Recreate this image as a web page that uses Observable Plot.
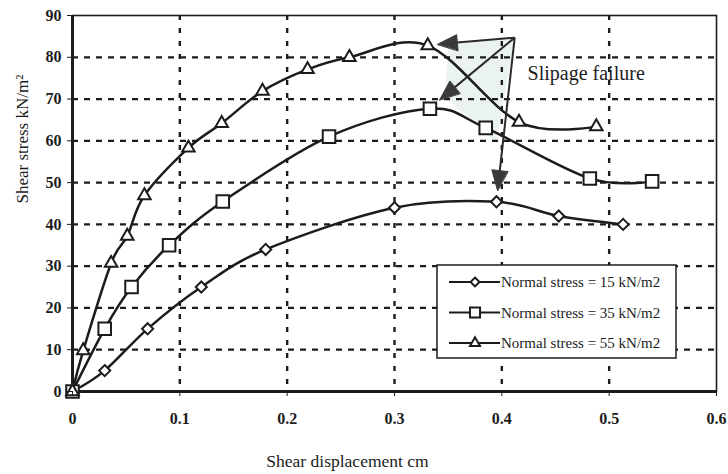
<!DOCTYPE html>
<html>
<head>
<meta charset="utf-8">
<script src="https://cdn.jsdelivr.net/npm/d3@7"></script>
<script src="https://cdn.jsdelivr.net/npm/@observablehq/plot@0.6"></script>
<style>
  html, body { margin: 0; padding: 0; background: #fff; }
  #chart svg { display: block; }
  #chart g[aria-label="x-axis tick label"] text,
  #chart g[aria-label="y-axis tick label"] text { font-weight: bold; }
</style>
</head>
<body>
<div id="chart"></div>
<script>
// ---- Data ----
const seriesNames = ["Normal stress = 15 kN/m2", "Normal stress = 35 kN/m2", "Normal stress = 55 kN/m2"];
const seriesSymbols = ["diamond2", "square2", "triangle2"];

const disp15 = [0, 0.03, 0.07, 0.12, 0.18, 0.30, 0.395, 0.453, 0.513];
const stress15 = [0, 5, 15, 25, 34, 44, 45.4, 42, 40];

const disp35 = [0, 0.03, 0.055, 0.09, 0.14, 0.239, 0.333, 0.385, 0.482, 0.54];
const stress35 = [0, 15, 25, 35, 45.5, 61, 67.7, 63.1, 51, 50.3];

const disp55 = [0, 0.01, 0.036, 0.051, 0.067, 0.108, 0.139, 0.177, 0.219, 0.258, 0.331, 0.416, 0.488];
const stress55 = [0, 9.8, 30.7, 37.2, 46.9, 58.3, 64.2, 71.9, 77.1, 80, 82.8, 64.5, 63.4];

const xTicks = [0, 0.1, 0.2, 0.3, 0.4, 0.5, 0.6];
const yTicks = [0, 10, 20, 30, 40, 50, 60, 70, 80, 90];
const xGrid = [0.1, 0.2, 0.3, 0.4, 0.5];
const yGrid = [10, 20, 30, 40, 50, 60, 70, 80];

const xLabel = "Shear displacement cm";
const yLabel = "Shear stress kN/m²";

// annotation "Slipage failure"
const noteText = "Slipage failure";
const noteAt = [0.424, 76.1];
const arrowFrom = [0.412, 84.7];
const arrowTipX = [0.340, 0.342, 0.396];
const arrowTipY = [83.1, 69.8, 48.1];
const shadeX = [0.412, 0.350, 0.347, 0.395];
const shadeY = [84.7, 83.0, 70.5, 59.5];

// ---- Layout ----
const W = 728, H = 474, mL = 72, mR = 12, mT = 15, mB = 83;
const kx = (W - mL - mR) / 0.6;   // px per unit x
const ky = (H - mT - mB) / 90;    // px per unit y

const series = [
  {name: seriesNames[0], sym: seriesSymbols[0], xs: disp15, ys: stress15, r: 5},
  {name: seriesNames[1], sym: seriesSymbols[1], xs: disp35, ys: stress35, r: 8},
  {name: seriesNames[2], sym: seriesSymbols[2], xs: disp55, ys: stress55, r: 6}
];
const rows = series.flatMap(s => s.xs.map((x, i) => ({series: s.name, sym: s.sym, r: s.r, x, y: s.ys[i]})));

// arrows: shaft + filled head polygon
const HEAD_L = 20, HEAD_W = 8;
const shafts = [], heads = [];
arrowTipX.forEach((tx, i) => {
  const ty = arrowTipY[i];
  const dxp = (tx - arrowFrom[0]) * kx, dyp = -(ty - arrowFrom[1]) * ky;
  const len = Math.hypot(dxp, dyp);
  const ux = dxp / len, uy = dyp / len;
  const bx = -ux * HEAD_L, by = -uy * HEAD_L; // base center offset px
  const nx = -uy * HEAD_W, ny = ux * HEAD_W;
  const toData = (px, py) => [tx + px / kx, ty - py / ky];
  const base = toData(bx, by);
  shafts.push({x1: arrowFrom[0], y1: arrowFrom[1], x2: base[0], y2: base[1]});
  const a = toData(0, 0), b = toData(bx + nx, by + ny), c = toData(bx - nx, by - ny);
  heads.push({k: i, x: a[0], y: a[1]}, {k: i, x: b[0], y: b[1]}, {k: i, x: c[0], y: c[1]});
});
const shade = shadeX.map((x, i) => ({x, y: shadeY[i]}));

const ink = "#1c1c1c";
const serif = "'Liberation Serif', 'Times New Roman', serif";

const chart = Plot.plot({
  width: W, height: H,
  marginLeft: mL, marginRight: mR, marginTop: mT, marginBottom: mB,
  style: {fontFamily: serif, fontSize: "16px", color: ink, background: "#fff"},
  x: {domain: [0, 0.6], axis: null},
  y: {domain: [0, 90], axis: null},
  marks: [
    Plot.line(shade, {x: "x", y: "y", fill: "#ebf2f2", stroke: "none", curve: "linear-closed"}),
    Plot.ruleY(yGrid, {stroke: ink, strokeWidth: 2.2, strokeDasharray: "6,6"}),
    Plot.ruleX(xGrid, {stroke: ink, strokeWidth: 2.4, strokeDasharray: "5,8"}),
    Plot.frame({stroke: ink, strokeWidth: 1.6}),
    Plot.ruleX([0], {stroke: ink, strokeWidth: 3}),
    Plot.ruleY([0], {stroke: ink, strokeWidth: 3}),
    Plot.line(rows, {x: "x", y: "y", z: "series", curve: "cardinal", stroke: ink, strokeWidth: 2.5}),
    Plot.link(shafts, {x1: "x1", y1: "y1", x2: "x2", y2: "y2", stroke: "#2a2a2a", strokeWidth: 2}),
    Plot.line(heads, {x: "x", y: "y", z: "k", fill: "#3a3a3a", stroke: "#3a3a3a", strokeWidth: 1, curve: "linear-closed"}),
    ...series.map(s => Plot.dot(rows.filter(d => d.series === s.name), {
      x: "x", y: "y", symbol: s.sym, r: s.r, fill: "white", stroke: ink, strokeWidth: 2
    })),
    Plot.text([noteText], {x: () => noteAt[0], y: () => noteAt[1], text: d => d, textAnchor: "start", fontSize: 20, fill: ink}),
    Plot.axisX(xTicks, {tickSize: 5, tickPadding: 16, tickFormat: d => String(d), fontWeight: "bold", fontSize: 16, stroke: ink, label: null}),
    Plot.axisY(yTicks, {tickSize: 5, tickPadding: 6, tickFormat: d => String(d), fontWeight: "bold", fontSize: 16, stroke: ink, label: null}),
    Plot.text([xLabel], {frameAnchor: "bottom", dx: -47, dy: 75, text: d => d, fontSize: 17.5, fill: ink}),
    Plot.text([yLabel], {frameAnchor: "left", dx: -50, rotate: -90, text: d => d, fontSize: 17, fill: ink})
  ]
});

// ---- Legend inside the plot (built from the series arrays) ----
const svg = d3.select(chart);
const lg = svg.append("g")
  .style("font-family", serif).style("font-size", "15px").style("text-anchor", "start");
const lx = 437, ly = 265, lw = 239, lh = 93;
lg.append("rect").attr("x", lx).attr("y", ly).attr("width", lw).attr("height", lh)
  .attr("fill", "white").attr("stroke", ink).attr("stroke-width", 1.5);
const symMap = {diamond2: d3.symbolDiamond2, square2: d3.symbolSquare2, triangle2: d3.symbolTriangle2};
series.forEach((s, i) => {
  const cy = ly + 17 + i * 30.5;
  lg.append("line").attr("x1", lx + 12).attr("x2", lx + 63).attr("y1", cy).attr("y2", cy)
    .attr("stroke", ink).attr("stroke-width", 2.2);
  lg.append("path").attr("transform", `translate(${lx + 38},${cy})`)
    .attr("d", d3.symbol(symMap[s.sym], Math.PI * (s.r * 0.8) ** 2)())
    .attr("fill", "white").attr("stroke", ink).attr("stroke-width", 2);
  lg.append("text").attr("x", lx + 64).attr("y", cy).attr("dy", "0.35em")
    .style("text-anchor", "start").style("font-size", "15px").attr("fill", ink).text(s.name);
});

document.getElementById("chart").appendChild(chart);
</script>
</body>
</html>
